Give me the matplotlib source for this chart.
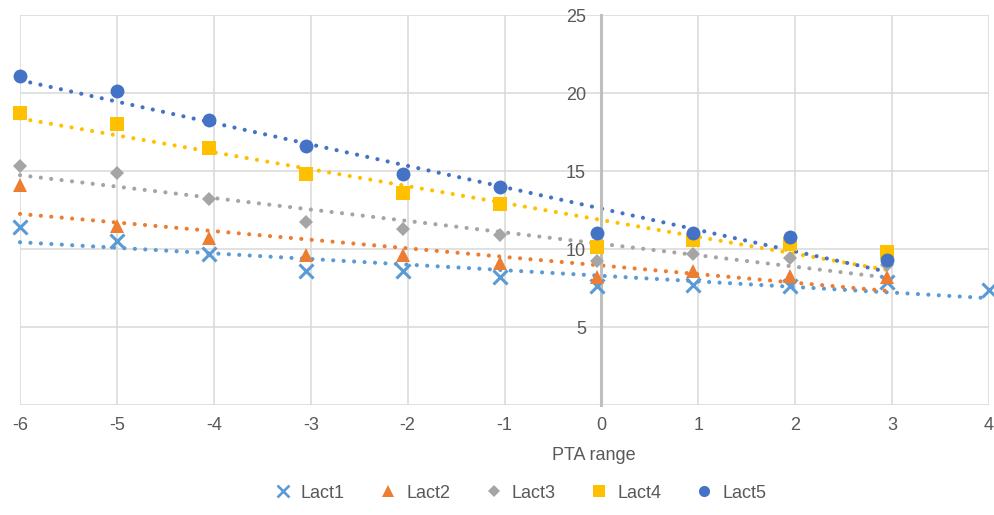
import numpy as np
import matplotlib
matplotlib.use("Agg")
import matplotlib.pyplot as plt
from matplotlib.lines import Line2D

plt.rcParams['font.family'] = ['Liberation Sans', 'DejaVu Sans']
plt.rcParams['axes.unicode_minus'] = False

x_main = [-6.0, -5.0, -4.05, -3.05, -2.05, -1.05, -0.05, 0.95, 1.95, 2.95]
x_lact1 = x_main + [4.0]

lact1 = [11.4, 10.5, 9.7, 8.6, 8.6, 8.2, 7.6, 7.7, 7.6, 7.9, 7.4]
lact2 = [14.1, 11.5, 10.7, 9.6, 9.6, 9.1, 8.2, 8.6, 8.3, 8.2]
lact3 = [15.3, 14.9, 13.2, 11.7, 11.3, 10.9, 9.2, 9.7, 9.4, 9.0]
lact4 = [18.7, 18.0, 16.5, 14.8, 13.6, 12.9, 10.1, 10.6, 10.3, 9.8]
lact5 = [21.1, 20.1, 18.3, 16.6, 14.8, 14.0, 11.0, 11.0, 10.8, 9.3]

names = ['Lact1', 'Lact2', 'Lact3', 'Lact4', 'Lact5']
colors = ['#5B9BD5', '#ED7D31', '#A5A5A5', '#FFC000', '#4472C4']
markers = ['x', '^', 'D', 's', 'o']
msizes = [10, 10, 7.5, 9.5, 10]

x_ticks = [-6, -5, -4, -3, -2, -1, 0, 1, 2, 3, 4]
y_ticks = [0, 5, 10, 15, 20, 25]
y_labels = ['', '5', '10', '15', '20', '25']

series = [(x_lact1, lact1), (x_main, lact2), (x_main, lact3), (x_main, lact4), (x_main, lact5)]

fig = plt.figure(figsize=(9.95, 5.15), dpi=100)
ax = fig.add_axes([20/995, 1-405/515, 969/995, 390/515])

ax.set_xlim(-6, 4)
ax.set_ylim(0, 25)
ax.set_xticks(x_ticks)
ax.set_yticks(y_ticks)
ax.set_yticklabels(y_labels)
ax.grid(True, color='#D9D9D9', linewidth=1.1)
ax.set_axisbelow(True)
for s in ['top', 'right', 'bottom']:
    ax.spines[s].set_visible(False)
ax.spines['left'].set_position(('data', 0))
ax.spines['left'].set_color('#BFBFBF')
ax.spines['left'].set_linewidth(2.2)
ax.tick_params(axis='both', length=0, labelsize=13, labelcolor='#595959')
ax.tick_params(axis='x', pad=9)
ax.tick_params(axis='y', pad=11)

for (xs, ys), c, m, ms, n in zip(series, colors, markers, msizes, names):
    xs = np.array(xs); ys = np.array(ys)
    k, b = np.polyfit(xs, ys, 1)
    xt = np.array([xs.min(), xs.max()])
    ax.plot(xt, k*xt + b, color=c, linewidth=3.0, linestyle=(0, (0.01, 2.5)),
            dash_capstyle='round', zorder=2, clip_on=False)
    if m == 'x':
        ax.plot(xs, ys, linestyle='none', marker=m, markersize=ms, color=c,
                markeredgewidth=2.2, zorder=3, clip_on=False)
    else:
        ax.plot(xs, ys, linestyle='none', marker=m, markersize=ms, color=c,
                markeredgewidth=0, zorder=3, clip_on=False)

fig.text(594/995, 1-455/515, 'PTA range', ha='center', va='center',
         fontsize=13, color='#595959')

handles = []
for c, m, ms in zip(colors, markers, msizes):
    if m == 'x':
        handles.append(Line2D([], [], linestyle='none', marker=m, color=c,
                              markersize=9, markeredgewidth=1.9))
    else:
        handles.append(Line2D([], [], linestyle='none', marker=m, color=c,
                              markersize=8 if m != 'D' else 6, markeredgewidth=0))
leg = fig.legend(handles, names, loc='center', bbox_to_anchor=(521/995, 1-493/515),
                 ncol=5, frameon=False, fontsize=13, handlelength=0.8,
                 handletextpad=0.6, columnspacing=2.0)
for t in leg.get_texts():
    t.set_color('#595959')

fig.savefig('out.png', dpi=100)
